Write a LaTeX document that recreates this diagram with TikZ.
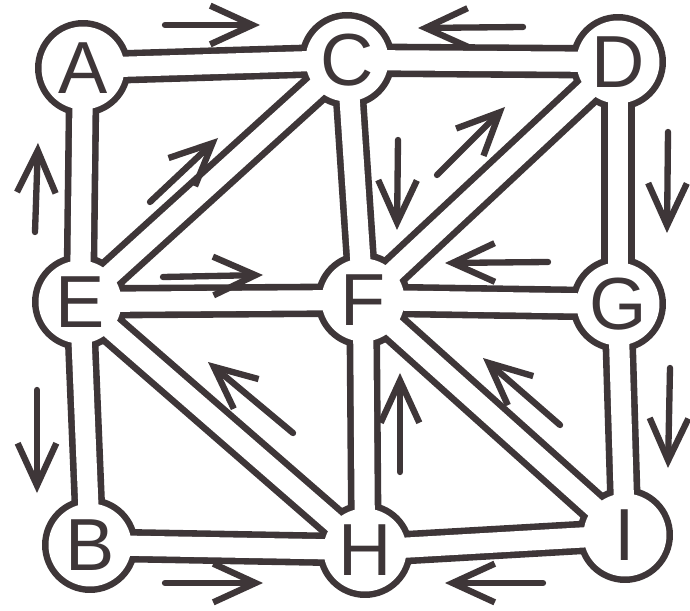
\documentclass[tikz,border=0pt]{standalone}
\usepackage{fontspec}
\setsansfont{Liberation Sans}
\usetikzlibrary{arrows.meta, backgrounds}
\definecolor{ink}{RGB}{62,54,56}

\begin{document}
\begin{tikzpicture}[x=0.02cm, y=-0.02cm,
  station/.style={font=\sffamily\fontsize{42}{42}\selectfont, text=ink, inner sep=0pt},
  pipewall/.style={ink, line width=19pt},
  pipebore/.style={white, line width=11.5pt},
  flow/.style={ink, line width=3.6pt, line cap=round, -{Straight Barb[length=24pt, width=22pt]}}]
  \useasboundingbox (0,0) rectangle (690,611);

  % Stations
  \foreach \n/\x/\y in {A/83/68, C/347/60, D/618/62, E/80/302, F/363/300,
                        G/618/304, B/90/545, H/365/550, I/625/535}
    \node[station] (\n) at (\x,\y) {\n};

  % Pipes (walls first, then bores)
  \begin{scope}[on background layer]
    \fill[white] (0,0) rectangle (690,611);
    \foreach \a/\b in {A/C, C/D, A/E, C/E, C/F, D/F, D/G, E/F, F/G,
                       E/B, E/H, F/H, F/I, G/I, B/H, H/I}
      \draw[pipewall] (\a.center) -- (\b.center);
    \foreach \n in {A,C,D,E,F,G,B,H,I}
      \fill[ink] (\n.center) circle (0.96cm);
    \foreach \a/\b in {A/C, C/D, A/E, C/E, C/F, D/F, D/G, E/F, F/G,
                       E/B, E/H, F/H, F/I, G/I, B/H, H/I}
      \draw[pipebore] (\a.center) -- (\b.center);
    \foreach \n in {A,C,D,E,F,G,B,H,I}
      \fill[white] (\n.center) circle (0.83cm);
  \end{scope}

  % Flow arrows
  \foreach \xa/\ya/\xb/\yb in {
    165/25/260/25, 523/27/418/28, 35/232/38/143, 150/202/218/138,
    163/277/263/275, 398/140/397/230, 437/175/505/107, 668/132/667/233,
    548/262/445/263, 37/390/37/493, 293/433/208/362, 165/583/263/583,
    400/472/400/373, 560/425/483/358, 670/368/668/468, 543/583/445/583}
    \draw[flow] (\xa,\ya) -- (\xb,\yb);
\end{tikzpicture}
\end{document}
